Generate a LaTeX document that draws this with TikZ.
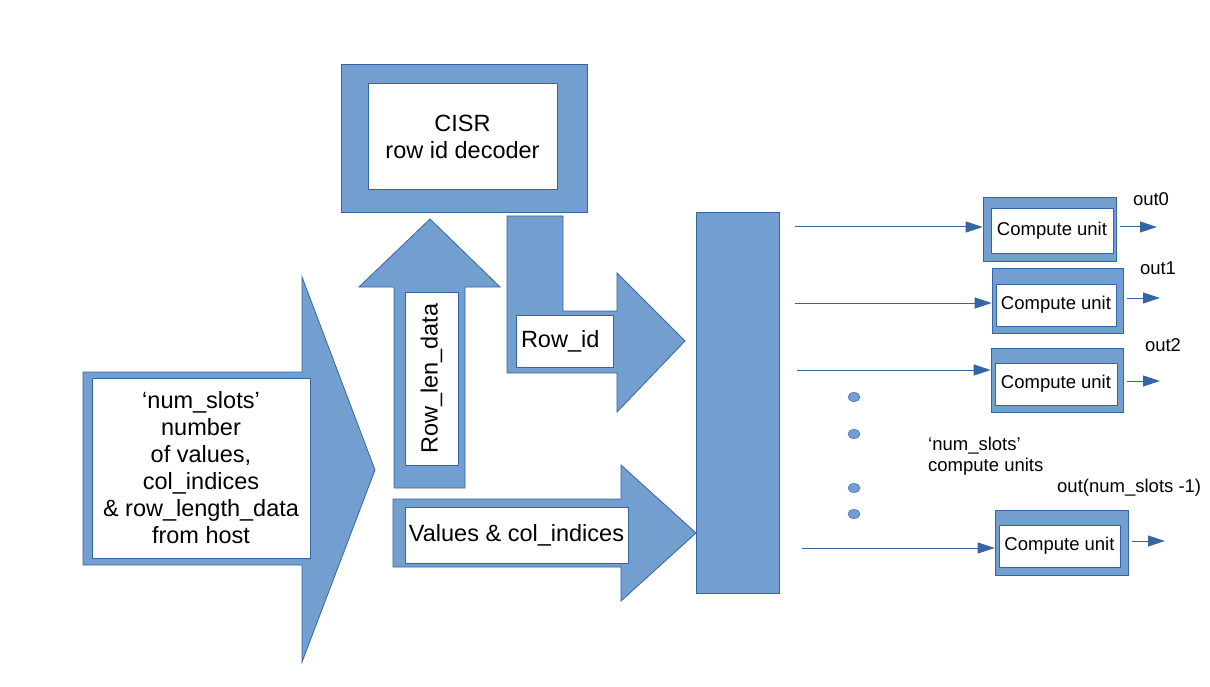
\documentclass[tikz,border=0pt]{standalone}
\usepackage{fontspec}
\setmainfont{Liberation Sans}
\usetikzlibrary{arrows.meta}
\definecolor{lofill}{HTML}{729FCF}
\definecolor{loline}{HTML}{3465A4}
\tikzset{
  blueshape/.style={fill=lofill, draw=loline, line width=0.8pt},
  whitebox/.style={fill=white, draw=loline, line width=0.5pt, inner sep=0pt, anchor=center},
  bigfont/.style={font=\fontsize{23.5}{27}\selectfont},
  smallfont/.style={font=\fontsize{18.5}{20.5}\selectfont},
  conn/.style={draw=loline, line width=1pt, -{Triangle[length=17pt,width=11pt]}},
  cuouter/.style={blueshape, inner sep=0pt, anchor=center},
  dotmark/.style={fill=lofill, draw=loline, line width=0.5pt},
}
\begin{document}
\begin{tikzpicture}[x=1pt,y=-1pt]
\useasboundingbox[fill=white] (0,0) rectangle (1210,687);

% big left arrow
\draw[blueshape] (83,372) -- (302,372) -- (302,277) -- (375,470) -- (302,662) -- (302,565) -- (83,565) -- cycle;
% up arrow (Row_len_data)
\draw[blueshape] (394,488) -- (394,287) -- (359,287) -- (430,219) -- (500,287) -- (465,287) -- (465,488) -- cycle;
% bent arrow (Row_id)
\draw[blueshape] (507,216) -- (563,216) -- (563,311) -- (617,311) -- (617,273) -- (685,341) -- (617,412) -- (617,373) -- (507,373) -- cycle;
% values arrow
\draw[blueshape] (393,499) -- (621,499) -- (621,465) -- (696,533) -- (621,601) -- (621,567) -- (393,567) -- cycle;
% tall bar
\node[cuouter, minimum width=83pt, minimum height=381pt] (bar) at (737.5,402.5) {};
% CISR decoder
\node[cuouter, minimum width=246pt, minimum height=148pt] (cisr) at (464,138) {};
\node[whitebox, bigfont, align=center, minimum width=189pt, minimum height=106pt] (cisrt) at (462.5,136.5) {CISR\\row id decoder};

% text boxes
\node[whitebox, bigfont, align=center, minimum width=218pt, minimum height=180pt] (host) at (201,468)
  {‘num\_slots’\\number\\of values,\\col\_indices\\\& row\_length\_data\\from host};
\node[whitebox, bigfont, rotate=90, minimum width=173pt, minimum height=53pt] (rl) at (431.5,378.5) {Row\_len\_data};
\node[whitebox, bigfont, minimum width=97pt, minimum height=52pt, text width=87pt, inner xsep=5pt, align=left] (rid) at (564.5,341) {Row\_id};
\node[whitebox, bigfont, minimum width=223pt, minimum height=56pt] (vals) at (516.5,535) {Values \& col\_indices};

% compute units
\node[cuouter, minimum width=133pt, minimum height=64pt] (cu0) at (1049.5,229) {};
\node[whitebox, smallfont, minimum width=122pt, minimum height=45pt] (cu0t) at (1052,230.5) {Compute unit};
\node[cuouter, minimum width=131pt, minimum height=65pt] (cu1) at (1057.5,300.5) {};
\node[whitebox, smallfont, minimum width=120pt, minimum height=42pt] (cu1t) at (1056,305) {Compute unit};
\node[cuouter, minimum width=132pt, minimum height=64pt] (cu2) at (1057,380) {};
\node[whitebox, smallfont, minimum width=122pt, minimum height=42pt] (cu2t) at (1056,384) {Compute unit};
\node[cuouter, minimum width=133pt, minimum height=65pt] (cu3) at (1061.5,542.5) {};
\node[whitebox, smallfont, minimum width=121pt, minimum height=42pt] (cu3t) at (1059.5,546) {Compute unit};

% input connectors
\coordinate (s0) at (795,227);
\coordinate (s1) at (795,303);
\coordinate (s2) at (797,370);
\coordinate (s3) at (802,548);
\draw[conn] (s0) -- (s0 -| cu0.west);
\draw[conn] (s1) -- (s1 -| cu1.west);
\draw[conn] (s2) -- (s2 -| cu2.west);
\draw[conn] (s3) -- (s3 -| cu3.west);

% output connectors
\coordinate (t0) at (1157,227);
\coordinate (t1) at (1160,298);
\coordinate (t2) at (1160,381);
\coordinate (t3) at (1165,541);
\draw[conn] ([xshift=4pt]t0 -| cu0.east) -- (t0);
\draw[conn] ([xshift=4pt]t1 -| cu1.east) -- (t1);
\draw[conn] ([xshift=4pt]t2 -| cu2.east) -- (t2);
\draw[conn] ([xshift=4pt]t3 -| cu3.east) -- (t3);

% output labels
\node[smallfont, inner sep=0pt] (l0) at (1151,199) {out0};
\node[smallfont, inner sep=0pt] (l1) at (1158,268) {out1};
\node[smallfont, inner sep=0pt] (l2) at (1163,345) {out2};
\node[smallfont, inner sep=0pt, anchor=west] (l3) at (1057,488) {out(num\_slots -1)};

% dots
\draw[dotmark] (854,397) ellipse [x radius=6, y radius=4.5];
\draw[dotmark] (854,434) ellipse [x radius=6, y radius=4.5];
\draw[dotmark] (854,488) ellipse [x radius=6, y radius=4.5];
\draw[dotmark] (854,514) ellipse [x radius=6, y radius=4.5];

\node[smallfont, inner sep=0pt, anchor=north west, align=left] (cul) at (928,437) {‘num\_slots’\\compute units};
\end{tikzpicture}
\end{document}
